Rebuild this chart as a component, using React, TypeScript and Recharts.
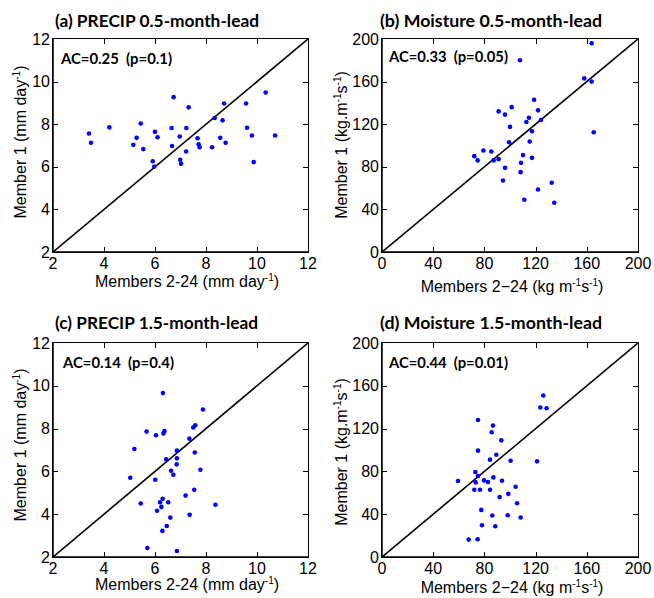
import React from 'react';
import { ScatterChart, Scatter, XAxis, YAxis } from 'recharts';

// (a) PRECIP 0.5-month-lead: [members 2-24, member 1]
const precip05: [number, number][] = [
  [3.41, 7.56], [3.49, 7.13], [4.21, 7.85], [5.44, 8.03], [5.28, 7.36], [5.15, 7.03],
  [5.54, 6.83], [5.91, 6.26], [5.97, 6.01], [6.0, 7.64], [6.1, 7.39], [6.65, 7.82],
  [6.67, 6.98], [6.73, 9.27], [6.97, 7.42], [6.99, 6.33], [7.02, 6.14], [7.23, 7.82],
  [7.22, 6.72], [7.32, 8.79], [7.67, 7.34], [7.71, 7.06], [7.75, 6.92], [8.24, 6.92],
  [8.34, 8.29], [8.56, 7.36], [8.65, 8.18], [8.71, 8.97], [8.77, 7.13], [9.57, 8.97],
  [9.61, 7.83], [9.8, 7.47], [9.87, 6.22], [10.34, 9.49], [10.71, 7.47],
];

// (b) Moisture 0.5-month-lead
const moist05: [number, number][] = [
  [163.8, 196], [107.8, 180], [158, 163], [163.8, 160], [118.8, 143], [101.3, 136],
  [121.9, 133], [91.1, 132], [96.1, 129], [114.8, 126], [112.8, 122], [124.2, 124],
  [100, 117.5], [117.2, 113.4], [165.4, 112.5], [99.2, 103], [115.4, 103.8], [72.1, 90],
  [79.2, 95.3], [85.4, 94.4], [74.7, 86], [87.2, 86], [91.1, 87.2], [110.2, 91],
  [117.2, 88.4], [108.6, 83.7], [96.1, 79], [108.3, 75], [94.5, 67.2], [132.6, 65],
  [121.9, 58.7], [111.2, 49.1], [134.6, 46.2],
];

// (c) PRECIP 1.5-month-lead
const precip15: [number, number][] = [
  [6.31, 9.66], [7.88, 8.89], [7.58, 8.16], [7.5, 8.05], [5.67, 7.86], [6.37, 7.88],
  [6.33, 7.77], [6.04, 7.69], [7.35, 7.53], [5.19, 7.05], [6.86, 6.97], [7.56, 6.88],
  [6.44, 6.56], [6.86, 6.61], [6.85, 6.33], [7.78, 6.08], [6.63, 6.03], [6.72, 5.84],
  [5.03, 5.7], [6.01, 5.61], [7.54, 5.14], [7.2, 4.87], [6.3, 4.72], [6.2, 4.56],
  [6.52, 4.56], [5.44, 4.5], [8.37, 4.44], [6.25, 4.34], [6.08, 4.16], [7.36, 3.97],
  [6.6, 3.84], [6.46, 3.45], [6.29, 3.22], [5.7, 2.42], [6.86, 2.28],
];

// (d) Moisture 1.5-month-lead
const moist15: [number, number][] = [
  [126, 151], [123.7, 139.7], [128.6, 139], [75, 128], [86.7, 122.8], [85.7, 116.6],
  [93.2, 109], [75, 99.4], [89.3, 95.6], [84.4, 91], [100.5, 90], [121.1, 89.4],
  [72.9, 79.4], [75, 75.6], [87, 74.4], [59.4, 71], [79.7, 71.6], [93.75, 71.25],
  [73.2, 69.7], [82.8, 70], [72.1, 62.8], [76.6, 62.8], [84.4, 62.8], [104.4, 65.6],
  [98.7, 59], [91.9, 56], [105.5, 50.3], [77.6, 44], [86.2, 38.75], [98.2, 39],
  [108.3, 36.9], [78.1, 29.7], [88.5, 28.75], [67.7, 16.25], [74.7, 16.6],
];

const precipTicks = [2, 4, 6, 8, 10, 12];
const moistTicks = [0, 40, 80, 120, 160, 200];

const Y_AXIS_W = 40;
const X_AXIS_H = 30;

type PanelProps = {
  data: [number, number][];
  ticks: number[];
  left: number;
  top: number;
  width: number;
  height: number;
  margin: { top: number; right: number; bottom: number; left: number };
};

const Dot = (props: any) => {
  const { cx, cy } = props;
  if (cx == null || cy == null) return null;
  return <circle cx={cx} cy={cy} r={2.3} fill="#0000FF" />;
};
const NoDot = () => <g />;

const TICK_FONT = { fill: '#000', fontSize: 16, fontFamily: 'Liberation Sans, Arial, sans-serif' };

// Box around the plot area (layout only) with inward tick marks at evenly spaced tick positions
function Frame({ margin, width, height, n }: { margin: PanelProps['margin']; width: number; height: number; n: number }) {
  const pw = width - margin.left - margin.right - Y_AXIS_W;
  const ph = height - margin.top - margin.bottom - X_AXIS_H;
  const idx = Array.from({ length: n - 2 }, (_, i) => i + 1);
  const tk = { position: 'absolute' as const, background: '#000' };
  return (
    <div style={{
      position: 'absolute', left: margin.left + Y_AXIS_W - 1, top: margin.top - 1,
      width: pw + 2, height: ph + 2, border: '1.5px solid #000', boxSizing: 'border-box', pointerEvents: 'none',
    }}>
      {idx.map((i) => (
        <React.Fragment key={i}>
          <div style={{ ...tk, left: `${(i * 100) / (n - 1)}%`, bottom: 0, width: 1, height: 5 }} />
          <div style={{ ...tk, left: `${(i * 100) / (n - 1)}%`, top: 0, width: 1, height: 5 }} />
          <div style={{ ...tk, top: `${(i * 100) / (n - 1)}%`, left: 0, width: 5, height: 1 }} />
          <div style={{ ...tk, top: `${(i * 100) / (n - 1)}%`, right: 0, width: 5, height: 1 }} />
        </React.Fragment>
      ))}
    </div>
  );
}

function Panel({ data, ticks, left, top, width, height, margin }: PanelProps) {
  const pts = data.map(([x, y]) => ({ x, y }));
  const lo = ticks[0];
  const hi = ticks[ticks.length - 1];
  const domain: [number, number] = [lo, hi];
  const diag = [{ x: lo, y: lo }, { x: hi, y: hi }];
  return (
    <div style={{ position: 'absolute', left, top, width, height }}>
      <ScatterChart width={width} height={height} margin={margin}>
        <XAxis xAxisId="b" dataKey="x" type="number" domain={domain} ticks={ticks} interval={0} allowDataOverflow height={X_AXIS_H}
          tickSize={-5} tickMargin={11} stroke="#000" axisLine={{ stroke: '#000', strokeWidth: 1.5 }} tickLine={false} tick={TICK_FONT} />
        <YAxis yAxisId="l" dataKey="y" type="number" domain={domain} ticks={ticks} interval={0} allowDataOverflow width={Y_AXIS_W}
          tickSize={-5} tickMargin={8} stroke="#000" axisLine={{ stroke: '#000', strokeWidth: 1.5 }} tickLine={false} tick={TICK_FONT} />
        <Scatter xAxisId="b" yAxisId="l" data={diag} shape={NoDot} line={{ stroke: '#000', strokeWidth: 1.6 }} isAnimationActive={false} />
        <Scatter xAxisId="b" yAxisId="l" data={pts} shape={Dot} isAnimationActive={false} />
      </ScatterChart>
      <Frame margin={margin} width={width} height={height} n={ticks.length} />
    </div>
  );
}

const TITLE_FONT = 'Lato, "Open Sans", sans-serif';
const LABEL_FONT = 'Liberation Sans, Arial, sans-serif';

function Overlay() {
  const title = (x: number, y: number, w: number, s: string) => (
    <text x={x} y={y} fontFamily={TITLE_FONT} fontWeight={700} fontSize={17.5} fill="#000" textLength={w} lengthAdjust="spacingAndGlyphs">{s}</text>
  );
  const ac = (x: number, y: number, w: number, s: string) => (
    <text x={x} y={y} fontFamily={TITLE_FONT} fontWeight={700} fontSize={15} fill="#000" textLength={w} lengthAdjust="spacingAndGlyphs" style={{ whiteSpace: 'pre' }}>{s}</text>
  );
  const precipX = (cx: number, y: number) => (
    <text x={cx} y={y} textAnchor="middle" fontFamily={LABEL_FONT} fontSize={16} fill="#000">
      <tspan>Members 2-24 (mm day</tspan>
      <tspan dy={-6} fontSize={10}>-1</tspan>
      <tspan dy={6}>)</tspan>
    </text>
  );
  const moistX = (cx: number, y: number) => (
    <text x={cx} y={y} textAnchor="middle" fontFamily={LABEL_FONT} fontSize={16} fill="#000">
      <tspan>Members 2−24 (kg m</tspan>
      <tspan dy={-6} fontSize={10}>-1</tspan>
      <tspan dy={6}>s</tspan>
      <tspan dy={-6} fontSize={10}>-1</tspan>
      <tspan dy={6}>)</tspan>
    </text>
  );
  const precipY = (x: number, cy: number) => (
    <text x={x} y={cy} transform={`rotate(-90 ${x} ${cy})`} textAnchor="middle" fontFamily={LABEL_FONT} fontSize={16} fill="#000">
      <tspan>Member 1 (mm day</tspan>
      <tspan dy={-6} fontSize={10}>-1</tspan>
      <tspan dy={6}>)</tspan>
    </text>
  );
  const moistY = (x: number, cy: number) => (
    <text x={x} y={cy} transform={`rotate(-90 ${x} ${cy})`} textAnchor="middle" fontFamily={LABEL_FONT} fontSize={16} fill="#000">
      <tspan>Member 1 (kg.m</tspan>
      <tspan dy={-6} fontSize={10}>-1</tspan>
      <tspan dy={6}>s</tspan>
      <tspan dy={-6} fontSize={10}>-1</tspan>
      <tspan dy={6}>)</tspan>
    </text>
  );
  return (
    <svg width={654} height={598} style={{ position: 'absolute', left: 0, top: 0, pointerEvents: 'none' }}>
      {title(55, 27, 204, '(a) PRECIP 0.5-month-lead')}
      {title(380, 27, 222, '(b) Moisture 0.5-month-lead')}
      {title(55, 329, 203, '(c) PRECIP 1.5-month-lead')}
      {title(380, 329, 222, '(d) Moisture 1.5-month-lead')}
      {ac(61, 64, 111, 'AC=0.25  (p=0.1)')}
      {ac(389, 62, 119, 'AC=0.33  (p=0.05)')}
      {ac(63, 368, 111, 'AC=0.14  (p=0.4)')}
      {ac(389, 368, 119, 'AC=0.44  (p=0.01)')}
      {precipX(187, 287)}
      {moistX(512, 292)}
      {precipX(187, 590)}
      {moistX(512, 593)}
      {precipY(26, 142)}
      {moistY(347, 145)}
      {precipY(26, 445)}
      {moistY(347, 452)}
    </svg>
  );
}

export default function App() {
  return (
    <div style={{ position: 'absolute', left: 0, top: 0, width: 654, height: 598, background: '#fff' }}>
      <Panel data={precip05} ticks={precipTicks} left={0} top={0} width={327} height={300}
        margin={{ top: 39, right: 19, bottom: 18, left: 13 }} />
      <Panel data={moist05} ticks={moistTicks} left={327} top={0} width={327} height={300}
        margin={{ top: 39, right: 16, bottom: 18, left: 15 }} />
      <Panel data={precip15} ticks={precipTicks} left={0} top={300} width={327} height={298}
        margin={{ top: 43, right: 19, bottom: 11, left: 13 }} />
      <Panel data={moist15} ticks={moistTicks} left={327} top={300} width={327} height={298}
        margin={{ top: 43, right: 16, bottom: 11, left: 15 }} />
      <Overlay />
    </div>
  );
}
